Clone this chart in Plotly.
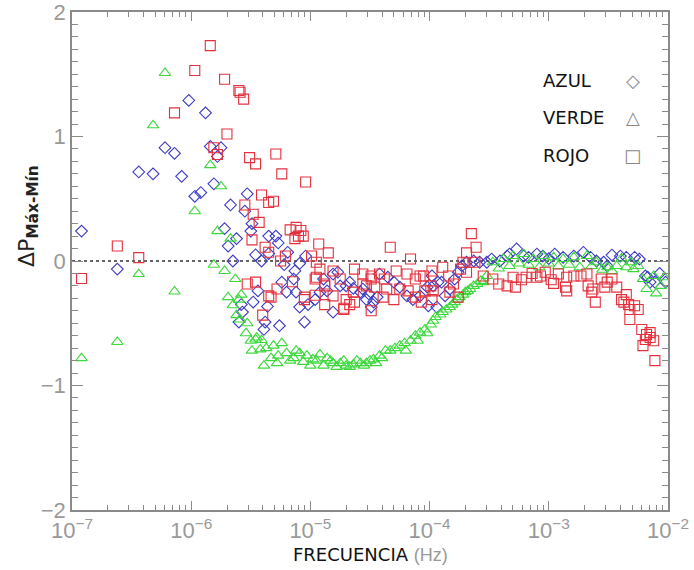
import plotly.graph_objects as go

# ---- data (log10 of frequency in Hz, ΔP values) ----
azul_logf = [-6.92, -6.62, -6.44, -6.32, -6.22, -6.14, -6.08, -6.02, -5.88, -5.97, -5.92, -5.84, -5.75, -5.78,
             -5.81, -5.67, -5.53, -5.55, -5.72, -5.62, -5.69, -5.65, -5.50, -5.49, -5.46, -5.48, -5.58, -5.57,
             -5.60, -5.35, -5.29, -5.27, -5.41, -5.35, -5.19, -5.22, -5.13, -5.14, -5.04, -5.09, -5.44, -5.36,
             -5.38, -5.39, -5.26, -5.24, -5.20, -5.12, -5.05, -5.09, -5.02, -4.96, -4.89, -4.81, -4.77, -4.92,
             -4.86, -4.81, -4.75, -4.70, -4.64, -4.58, -4.53, -4.47, -4.49, -4.67, -4.56, -4.51, -4.44, -4.42,
             -4.35, -4.30, -4.25, -4.19, -4.14, -4.08, -4.02, -3.98, -3.94, -3.93, -3.97, -4.01, -3.90, -3.87,
             -3.83, -3.79, -3.76, -3.73, -3.69, -3.63, -3.58, -3.52, -3.48, -3.41, -3.35, -3.33, -3.27, -3.21,
             -3.17, -3.10, -3.05, -3.00, -2.95, -2.88, -2.79, -2.71, -2.65, -2.60, -2.54, -2.51, -2.47, -2.40,
             -2.35, -2.28, -2.24, -2.19, -2.15, -2.11, -2.17, -2.02, -2.07]
azul_val = [0.24, -0.065, 0.715, 0.70, 0.91, 0.865, 0.68, 1.29, 1.19, 0.52, 0.55, 0.92, 0.91, 0.84,
            0.62, 0.45, 0.54, 0.40, 0.26, 0.18, 0.12, 0.0, 0.24, 0.30, 0.05, -0.33, -0.35, -0.41,
            -0.49, 0.20, 0.20, 0.145, 0.0, 0.06, 0.07, -0.03, -0.08, -0.145, 0.04, -0.02, -0.24, -0.365,
            -0.49, -0.55, -0.52, -0.17, -0.25, -0.25, -0.49, -0.37, -0.35, -0.31, -0.145, -0.105, -0.09, -0.25,
            -0.24, -0.41, -0.20, -0.20, -0.22, -0.25, -0.31, -0.33, -0.37, -0.17, -0.225, -0.265, -0.29, -0.105,
            -0.13, -0.17, -0.21, -0.28, -0.31, -0.28, -0.21, -0.12, -0.37, -0.17, -0.20, -0.36, -0.17, -0.28,
            -0.225, -0.145, -0.09, -0.04, -0.01, 0.0, -0.01, -0.01, 0.016, 0.0, 0.04, 0.056, 0.097, 0.04,
            0.03, 0.056, 0.04, 0.02, 0.056, 0.03, 0.04, 0.07, 0.03, 0.0, -0.01, -0.04, 0.048, 0.04,
            0.03, 0.03, 0.016, -0.12, -0.17, -0.17, -0.13, -0.17, -0.10]

verde_logf = [-6.92, -6.62, -6.44, -6.14, -6.22, -6.32, -5.84, -5.75, -5.97, -5.78, -5.67, -5.81, -5.72, -5.63,
              -5.69, -5.65, -5.58, -5.60, -5.53, -5.54, -5.50, -5.46, -5.49, -5.62, -5.59, -5.45, -5.41, -5.37,
              -5.42, -5.39, -5.31, -5.27, -5.24, -5.20, -5.14, -5.09, -5.03, -4.98, -4.92, -4.86, -4.81, -4.75,
              -4.70, -4.64, -4.58, -4.53, -4.47, -4.42, -5.33, -5.28, -5.17, -5.12, -5.06, -5.00, -4.95, -4.89,
              -4.83, -4.78, -4.72, -4.67, -4.61, -4.55, -4.50, -4.45, -4.40, -4.37, -4.33, -4.29, -4.25, -4.21,
              -4.16, -4.12, -4.08, -4.04, -3.99, -3.97, -3.95, -3.91, -3.89, -3.86, -3.83, -3.81, -3.79, -3.77,
              -3.75, -3.72, -3.70, -3.68, -3.66, -3.63, -3.60, -3.57, -3.55, -3.52, -4.20, -4.10, -4.02,
              -3.47, -3.42, -3.38, -3.33, -3.30, -3.25, -3.21, -3.17, -3.13, -3.08, -3.05, -3.00, -2.96, -2.92,
              -2.88, -2.83, -2.79, -2.74, -2.68, -2.64, -2.60, -2.55, -2.51, -2.47, -2.43, -2.39, -2.35, -2.31,
              -2.29, -2.25, -2.21, -2.18, -2.12, -2.10, -2.06, -2.03]
verde_val = [-0.78, -0.65, -0.105, -0.245, 1.51, 1.09, 0.77, 0.60, 0.40, 0.24, 0.18, -0.03, -0.08, -0.145,
             -0.29, -0.355, -0.27, -0.31, -0.50, -0.58, -0.64, -0.63, -0.72, -0.435, -0.47, -0.615, -0.635, -0.70,
             -0.71, -0.84, -0.68, -0.76, -0.66, -0.74, -0.78, -0.74, -0.76, -0.79, -0.75, -0.78, -0.82, -0.82,
             -0.84, -0.83, -0.82, -0.82, -0.79, -0.76, -0.78, -0.82, -0.80, -0.72, -0.81, -0.84, -0.80, -0.84,
             -0.80, -0.85, -0.80, -0.85, -0.80, -0.84, -0.80, -0.82, -0.78, -0.72, -0.72, -0.70, -0.68, -0.66,
             -0.64, -0.60, -0.575, -0.55, -0.51, -0.48, -0.45, -0.43, -0.41, -0.39, -0.37, -0.35, -0.33, -0.31,
             -0.29, -0.27, -0.25, -0.24, -0.225, -0.20, -0.185, -0.16, -0.17, -0.12, -0.72, -0.64, -0.58,
             -0.01, -0.06, 0.016, -0.04, 0.04, -0.02, 0.056, -0.03, 0.016, -0.05, 0.04, -0.02, 0.03, -0.04,
             0.016, -0.03, 0.03, -0.05, 0.04, -0.04, -0.01, -0.07, -0.05, -0.08, -0.04, 0.02, -0.05, -0.01,
             -0.065, -0.04, -0.145, -0.225, -0.12, -0.26, -0.20, -0.13]

rojo_logf = [-6.92, -6.62, -6.44, -5.84, -5.97, -6.14, -5.72, -5.60, -5.59, -5.56, -5.70, -5.81, -5.78, -5.51,
             -5.46, -5.55, -5.48, -5.49, -5.53, -5.46, -5.29, -5.24, -5.04, -5.41, -5.35, -5.31, -5.43, -5.38,
             -5.35, -5.17, -5.12, -5.08, -5.10, -5.06, -5.13, -4.93, -4.85, -4.99, -4.95, -4.92, -4.95, -4.88,
             -5.21, -5.25, -5.15, -5.28, -5.35, -5.33, -5.05, -5.40, -4.88, -4.72, -4.63, -4.56, -4.49, -4.49,
             -4.70, -4.64, -4.33, -4.16, -4.96, -4.88, -4.81, -4.75, -4.56, -4.49, -4.42, -4.38, -4.28, -4.19,
             -4.12, -4.08, -3.99, -3.97, -5.05, -4.96, -4.81, -4.72, -4.67, -4.63, -4.39, -4.30, -4.12, -4.07,
             -3.98, -4.53, -4.46, -4.36, -4.25, -4.18, -4.04, -3.65, -3.61, -3.69, -3.72, -3.62, -3.74, -3.69,
             -3.98, -4.05, -3.89, -3.84, -3.80, -3.83, -3.76, -3.55, -3.47, -3.42, -3.35, -3.28, -3.19, -3.10,
             -3.03, -3.30, -3.23, -3.14, -2.98, -2.96, -3.07, -2.92, -2.85, -2.86, -2.85, -2.79, -2.73, -2.68,
             -2.67, -2.63, -2.64, -2.61, -2.56, -2.51, -2.53, -2.47, -2.43, -2.39, -2.35, -2.37, -2.33, -2.32,
             -2.28, -2.25, -2.32, -2.22, -2.18, -2.15, -2.19, -2.12, -2.21, -2.15, -2.11]
rojo_val = [-0.14, 0.12, 0.027, 1.73, 1.53, 1.19, 1.46, 1.37, 1.355, 1.30, 1.02, 0.91, 0.855, 0.83,
            0.78, 0.45, 0.375, 0.17, -0.185, -0.17, 0.86, 0.70, 0.635, 0.53, 0.47, 0.48, 0.31, 0.11,
            0.07, 0.25, 0.27, 0.245, 0.20, 0.20, 0.18, 0.137, 0.065, 0.04, -0.01, -0.065, -0.13, -0.185,
            0.04, 0.0, -0.167, -0.225, -0.28, -0.29, -0.31, -0.435, -0.35, -0.39, -0.065, -0.185, -0.145, -0.40,
            -0.31, -0.25, 0.11, 0.016, -0.145, -0.20, -0.08, -0.145, -0.105, -0.12, -0.105, -0.145, -0.08, -0.105,
            -0.145, -0.12, -0.20, -0.24, -0.29, -0.275, -0.28, -0.38, -0.35, -0.33, -0.29, -0.31, -0.29, -0.33,
            -0.31, -0.20, -0.21, -0.225, -0.225, -0.24, -0.24, 0.22, 0.11, 0.065, -0.01, -0.01, -0.065, -0.09,
            -0.08, -0.12, -0.05, -0.12, -0.185, -0.25, -0.29, -0.12, -0.145, -0.185, -0.20, -0.21, -0.13, -0.13,
            -0.09, -0.13, -0.15, -0.10, -0.15, -0.18, -0.12, -0.105, -0.13, -0.21, -0.24, -0.12, -0.12, -0.105,
            -0.20, -0.225, -0.25, -0.33, -0.145, -0.17, -0.21, -0.145, -0.21, -0.31, -0.27, -0.33, -0.35, -0.39,
            -0.36, -0.39, -0.47, -0.55, -0.59, -0.575, -0.63, -0.64, -0.68, -0.615, -0.80]

x_tick_exps = [-7, -6, -5, -4, -3, -2]
legend_names = ["AZUL", "VERDE", "ROJO"]
legend_symbols = ["◇", "△", "□"]

BLUE = "#3c3cc4"
GREEN = "#3cd83c"
RED = "#e4303c"
GREY = "#999999"
AXIS = "#8a8a8a"


def hz(logs):
    return [10 ** v for v in logs]


fig = go.Figure()
fig.add_trace(go.Scatter(x=hz(azul_logf), y=azul_val, mode="markers", name="AZUL",
                         marker=dict(symbol="diamond-open", size=9, color=BLUE, line=dict(width=1.1))))
fig.add_trace(go.Scatter(x=hz(verde_logf), y=verde_val, mode="markers", name="VERDE",
                         marker=dict(symbol="triangle-up-open", size=10, color=GREEN, line=dict(width=1.1))))
fig.add_trace(go.Scatter(x=hz(rojo_logf), y=rojo_val, mode="markers", name="ROJO",
                         marker=dict(symbol="square-open", size=10, color=RED, line=dict(width=1.1))))

# dotted zero line
fig.add_shape(type="line", xref="paper", x0=0, x1=1, yref="y", y0=0, y1=0,
              line=dict(color="#333333", width=1.6, dash="dot"), layer="below")

minor_x = [m * 10 ** e for e in range(-7, -2) for m in range(2, 10)]

fig.update_xaxes(type="log", range=[-7, -2], automargin=False, ticklabeloverflow="allow",
                 tickmode="array", tickvals=[10 ** e for e in x_tick_exps],
                 ticktext=["10<sup>−%d</sup>" % abs(e) for e in x_tick_exps],
                 ticks="inside", ticklen=9, tickwidth=1.2, tickcolor=AXIS,
                 minor=dict(tickmode="array", tickvals=minor_x, ticks="inside", ticklen=5,
                            tickwidth=1.1, tickcolor=AXIS, showgrid=False),
                 showline=True, linecolor=AXIS, linewidth=1.5, mirror="ticks",
                 showgrid=False, zeroline=False,
                 tickfont=dict(family="Liberation Sans", size=22, color=GREY))
fig.update_yaxes(range=[-2, 2], tickmode="linear", tick0=0, dtick=1, automargin=False,
                 ticklabeloverflow="allow",
                 ticks="inside", ticklen=11, tickwidth=1.2, tickcolor=AXIS,
                 minor=dict(tick0=0, dtick=0.1, ticks="inside", ticklen=6,
                            tickwidth=1.1, tickcolor=AXIS, showgrid=False),
                 showline=True, linecolor=AXIS, linewidth=1.5, mirror="ticks",
                 showgrid=False, zeroline=False,
                 tickfont=dict(family="Liberation Sans", size=22, color=GREY))

# legend as text + symbols
leg_y = [0.863, 0.789, 0.711]
for name, sym, yy in zip(legend_names, legend_symbols, leg_y):
    fig.add_annotation(xref="paper", yref="paper", x=0.787, y=yy, text=name, showarrow=False,
                       xanchor="left", yanchor="middle",
                       font=dict(family="DejaVu Sans", size=18, color="#111111"))
    fig.add_annotation(xref="paper", yref="paper", x=0.941, y=yy, text=sym, showarrow=False,
                       xanchor="center", yanchor="middle",
                       font=dict(family="DejaVu Sans", size=18, color="#888888"))

# axis titles
fig.add_annotation(xref="paper", yref="paper", x=0.5, y=-0.09, showarrow=False,
                   xanchor="center", yanchor="middle",
                   text="FRECUENCIA <span style='color:#999999;font-family:Liberation Sans'>(Hz)</span>",
                   font=dict(family="DejaVu Sans", size=18, color="#111111"))
fig.add_annotation(xref="paper", yref="paper", x=-0.074, y=0.59, showarrow=False, textangle=-90,
                   xanchor="center", yanchor="middle",
                   text="ΔP<sub><b>Máx-Mín</b></sub>",
                   font=dict(family="DejaVu Sans", size=22, color="#222222"))

fig.update_layout(width=694, height=570, margin=dict(l=72, r=26, t=12, b=60),
                  paper_bgcolor="white", plot_bgcolor="white", showlegend=False)

fig.write_html("out.html", config={"displayModeBar": False},
               post_script="document.body.style.margin='0';")
